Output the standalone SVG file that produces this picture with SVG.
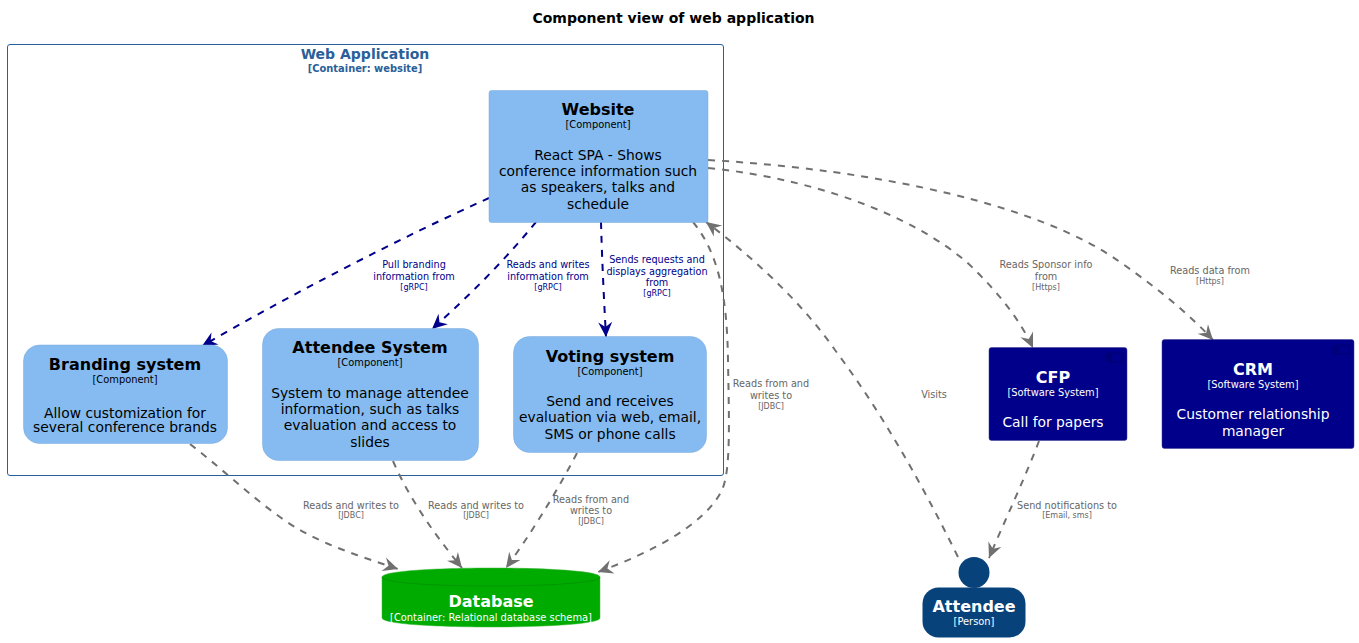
<svg xmlns="http://www.w3.org/2000/svg" width="1359" height="643" viewBox="0 0 1359 643">
<style>
text{font-family:"DejaVu Sans",sans-serif;text-anchor:middle}
.t{font-size:16px;font-weight:700}
.s{font-size:9.9px}
.d{font-size:13.85px}
.b{fill:#000}
.w{fill:#fff}
.box{fill:#85BBF0;stroke:#78A8D8;stroke-width:.5}
.ext{fill:#00008B;stroke:#3C3C8C;stroke-width:.5}
.c{fill:none;stroke-width:2;stroke-dasharray:7,7}
.g{stroke:#707070}
.n{stroke:#00008B}
.lg{fill:#666;font-size:9.7px}
.ln{fill:#00008B;font-size:9.7px}
.lgs{fill:#666;font-size:8px}
.lns{fill:#00008B;font-size:8px}
.ic{fill:none;stroke:#00006A;stroke-width:.8}
</style>
<defs>
<marker id="ag" markerUnits="userSpaceOnUse" markerWidth="20" markerHeight="20" refX="15" refY="8" orient="auto" overflow="visible"><path d="M15 8 L0 1 L5 8 L0 15 Z" fill="#707070"/></marker>
<marker id="an" markerUnits="userSpaceOnUse" markerWidth="20" markerHeight="20" refX="15" refY="8" orient="auto" overflow="visible"><path d="M15 8 L0 1 L5 8 L0 15 Z" fill="#00008B"/></marker>
</defs>
<rect width="1359" height="643" fill="#fff"/>
<text x="673.500" y="23" style="font-size:14px;font-weight:700" fill="#000">Component view of web application</text>
<g id="boundary-web-application">
<rect x="7.500" y="44.500" width="716" height="431" rx="2.500" fill="none" stroke="#2A6099"/>
<text x="365" y="59" style="font-size:14px;font-weight:700" fill="#2A6099">Web Application</text>
<text x="365" y="72" style="font-size:9.9px;font-weight:700" fill="#2A6099">[Container: website]</text>
</g>
<g id="connectors">
<path class="c n" marker-end="url(#an)" d="M489 198C400 238 290 295 202 346"/>
<path class="c n" marker-end="url(#an)" d="M536 222C505 260 470 295 432 329"/>
<path class="c n" marker-end="url(#an)" d="M601 222C602 260 604 300 606 337"/>
<path class="c g" marker-end="url(#ag)" d="M693 222C720 255 727 300 728 360C729 420 731 470 722 490C705 525 650 553 598 572"/>
<path class="c g" marker-end="url(#ag)" d="M708 168C830 180 930 225 975 270C1000 295 1020 320 1033 348"/>
<path class="c g" marker-end="url(#ag)" d="M708 160C880 170 1040 205 1120 262C1160 290 1190 315 1213 340"/>
<path class="c g" marker-end="url(#ag)" d="M190 444C230 475 265 510 300 530C330 547 365 558 398 569"/>
<path class="c g" marker-end="url(#ag)" d="M393 461C410 500 435 535 462 568"/>
<path class="c g" marker-end="url(#ag)" d="M577 453C555 495 530 535 506 568"/>
<path class="c g" marker-end="url(#ag)" d="M958 557C920 480 880 410 835 350C800 300 750 255 706 222"/>
<path class="c g" marker-end="url(#ag)" d="M1039 441C1025 478 1005 520 989 558"/>
<text class="ln" x="414" y="268">Pull branding</text>
<text class="ln" x="414" y="280">information from</text>
<text class="lns" x="414" y="290">[gRPC]</text>
<text class="ln" x="548" y="268">Reads and writes</text>
<text class="ln" x="548" y="280">information from</text>
<text class="lns" x="548" y="290">[gRPC]</text>
<text class="ln" x="657" y="263">Sends requests and</text>
<text class="ln" x="657" y="274.500">displays aggregation</text>
<text class="ln" x="657" y="286">from</text>
<text class="lns" x="657" y="296">[gRPC]</text>
<text class="lg" x="771" y="387">Reads from and</text>
<text class="lg" x="771" y="399">writes to</text>
<text class="lgs" x="771" y="409">[JDBC]</text>
<text class="lg" x="1046" y="268">Reads Sponsor info</text>
<text class="lg" x="1046" y="280">from</text>
<text class="lgs" x="1046" y="290">[Https]</text>
<text class="lg" x="1210" y="274">Reads data from</text>
<text class="lgs" x="1210" y="284">[Https]</text>
<text class="lg" x="351" y="509">Reads and writes to</text>
<text class="lgs" x="351" y="518">[JDBC]</text>
<text class="lg" x="476" y="509">Reads and writes to</text>
<text class="lgs" x="476" y="518">[JDBC]</text>
<text class="lg" x="591" y="503">Reads from and</text>
<text class="lg" x="591" y="514">writes to</text>
<text class="lgs" x="591" y="524">[JDBC]</text>
<text class="lg" x="934" y="398">Visits</text>
<text class="lg" x="1067" y="509">Send notifications to</text>
<text class="lgs" x="1067" y="518">[Email, sms]</text>
</g>
<g id="website">
<rect class="box" x="489" y="90.500" width="219" height="132" rx="2.500"/>
<text class="t b" x="598" y="115">Website</text>
<text class="s b" x="598" y="128">[Component]</text>
<text class="d b" x="598" y="160">React SPA - Shows</text>
<text class="d b" x="598" y="176">conference information such</text>
<text class="d b" x="598" y="192">as speakers, talks and</text>
<text class="d b" x="598" y="209">schedule</text>
</g>
<g id="branding-system">
<rect class="box" x="23.500" y="345" width="204" height="98.500" rx="16"/>
<text class="t b" x="125" y="370">Branding system</text>
<text class="s b" x="125" y="383">[Component]</text>
<text class="d b" x="125" y="418">Allow customization for</text>
<text class="d b" x="125" y="432">several conference brands</text>
</g>
<g id="attendee-system">
<rect class="box" x="262.500" y="328.500" width="216" height="132" rx="16"/>
<text class="t b" x="370" y="353">Attendee System</text>
<text class="s b" x="370" y="366">[Component]</text>
<text class="d b" x="370" y="398">System to manage attendee</text>
<text class="d b" x="370" y="414">information, such as talks</text>
<text class="d b" x="370" y="430">evaluation and access to</text>
<text class="d b" x="370" y="447">slides</text>
</g>
<g id="voting-system">
<rect class="box" x="513.500" y="336.500" width="193" height="116" rx="16"/>
<text class="t b" x="610" y="362">Voting system</text>
<text class="s b" x="610" y="375">[Component]</text>
<text class="d b" x="610" y="406">Send and receives</text>
<text class="d b" x="610" y="422">evaluation via web, email,</text>
<text class="d b" x="610" y="439">SMS or phone calls</text>
</g>
<g id="cfp">
<rect class="ext" x="989" y="347.500" width="138" height="93" rx="2.500"/>
<g class="ic"><rect x="1109" y="353" width="13" height="9"/><rect x="1106" y="354.500" width="5" height="2.500"/><rect x="1106" y="358" width="5" height="2.500"/></g>
<text class="t w" x="1053" y="383">CFP</text>
<text class="s w" x="1053" y="396">[Software System]</text>
<text class="d w" x="1053" y="427">Call for papers</text>
</g>
<g id="crm">
<rect class="ext" x="1162" y="339.500" width="192" height="109" rx="2.500"/>
<g class="ic"><rect x="1336" y="345" width="13" height="9"/><rect x="1333" y="346.500" width="5" height="2.500"/><rect x="1333" y="350" width="5" height="2.500"/></g>
<text class="t w" x="1253" y="375">CRM</text>
<text class="s w" x="1253" y="388">[Software System]</text>
<text class="d w" x="1253" y="419">Customer relationship</text>
<text class="d w" x="1253" y="436">manager</text>
</g>
<g id="database">
<path d="M382 577C382 565 600 565 600 577V618C600 630 382 630 382 618Z" fill="#00AB00" stroke="#3CB43C" stroke-width=".5"/>
<path d="M382 577C382 589 600 589 600 577" fill="none" stroke="#009000" stroke-width=".8"/>
<text class="t w" x="491" y="607">Database</text>
<text class="s w" x="491" y="621">[Container: Relational database schema]</text>
</g>
<g id="attendee">
<circle cx="974" cy="572.500" r="15.500" fill="#08427B"/>
<rect x="922.500" y="587.500" width="103" height="50" rx="16" fill="#08427B"/>
<text class="t w" x="974" y="612">Attendee</text>
<text class="s w" x="974" y="625">[Person]</text>
</g>
</svg>
